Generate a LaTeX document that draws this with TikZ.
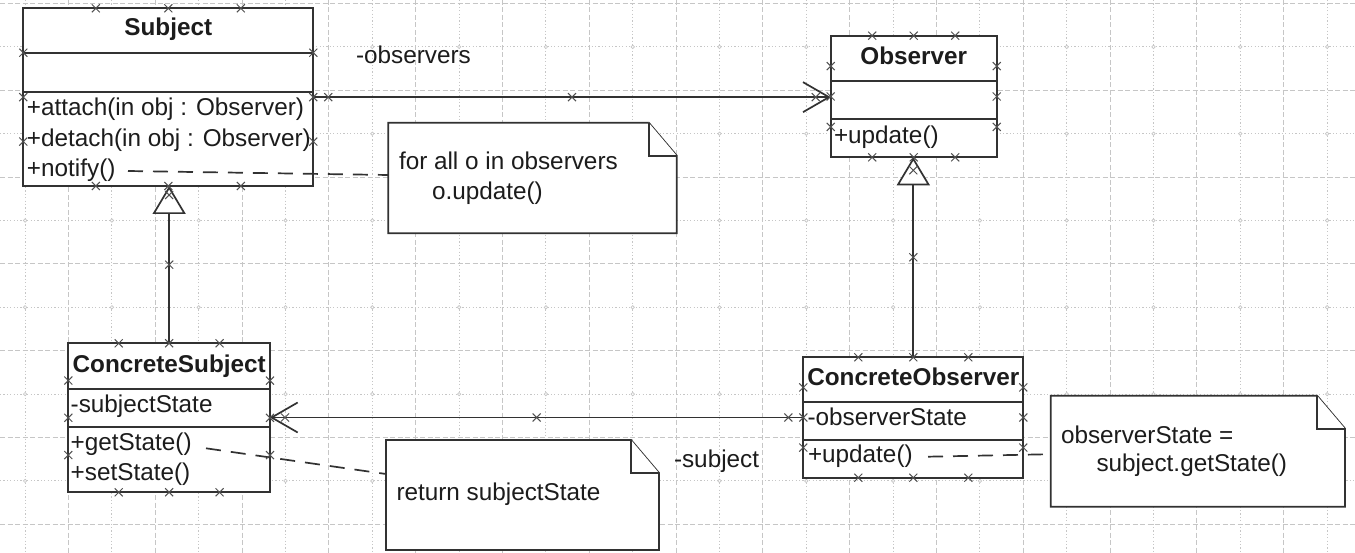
\documentclass[tikz,border=0pt]{standalone}
\usepackage{fontspec}
\setmainfont{Liberation Sans}
\usetikzlibrary{arrows.meta,calc}

\definecolor{gridgray}{RGB}{198,198,198}
\definecolor{inkgray}{RGB}{50,50,50}
\definecolor{textgray}{RGB}{28,28,28}
\definecolor{markgray}{RGB}{80,80,80}

% folded-corner outline of a note node
\newcommand\notefold[1]{%
  \draw[noteline] (#1.south west) -- (#1.north west) -- ([xshift=-28pt]#1.north east)
    -- ([yshift=-33pt]#1.north east) -- (#1.south east) -- cycle;
  \draw[noteline] ([xshift=-28pt]#1.north east) |- ([yshift=-33pt]#1.north east);}

\begin{document}
\begin{tikzpicture}[x=1pt,y=-1pt,
  every node/.style={inner sep=0pt, outer sep=0pt, text=textgray,
    font=\fontsize{24.3pt}{29pt}\selectfont},
  griddash/.style={draw=gridgray, line width=1pt, dash pattern=on 5pt off 2.5pt},
  griddot/.style={draw=gridgray, line width=1pt, dash pattern=on 1.2pt off 2.2pt},
  classbox/.style={draw=inkgray, line width=1.8pt, fill=white, rectangle},
  sepline/.style={draw=inkgray, line width=1.8pt},
  title/.style={anchor=base, font=\fontsize{24.3pt}{29pt}\selectfont\bfseries},
  member/.style={anchor=base west},
  notebase/.style={rectangle},
  noteline/.style={draw=inkgray, line width=1.8pt, fill=white, line join=miter},
  assoc/.style={draw=inkgray, line width=1.7pt, -{Straight Barb[length=26pt,width=30pt]}},
  gen/.style={draw=inkgray, line width=1.7pt, -{Triangle[length=28pt,width=33pt,fill=white]}},
  notelink/.style={draw=inkgray, line width=1.7pt, dash pattern=on 15pt off 10pt},
  markline/.style={draw=markgray, line width=1pt},
  hx/.pic={\draw[markline] (-4,-4) -- (4,4) (-4,4) -- (4,-4);}
]
\useasboundingbox[fill=white] (0,0) rectangle (1355,553);

% background grid: alternating dashed and dotted rules
\foreach \k in {0,...,30}{
  \pgfmathsetmacro\gx{25.1+43.4*\k}
  \ifodd\k \draw[griddash] (\gx,0) -- (\gx,553); \else \draw[griddot] (\gx,0) -- (\gx,553); \fi
}
\foreach \k in {0,...,12}{
  \pgfmathsetmacro\gy{3.5+43.4*\k}
  \ifodd\k \draw[griddot] (0,\gy) -- (1355,\gy); \else \draw[griddash] (0,\gy) -- (1355,\gy); \fi
}
\foreach \i in {0,2,...,30}{
  \foreach \j in {1,3,...,11}{
    \draw[gridgray, line width=0.7pt, fill=white] ({25.1+43.4*\i},{3.5+43.4*\j}) circle (1.7pt);
  }
}

% ---- classes ----
\node[classbox, minimum width=290pt, minimum height=177.7pt] (subj) at (168.3,97.15) {};
\draw[sepline] (subj.north west) ++(0,45) -- ++(290,0);
\draw[sepline] (subj.north west) ++(0,83.5) -- ++(290,0);
\node[title] (subjT) at (168.3,36) {Subject};
\node[member] (subjA) at (27,116) {+attach(in obj : Observer)};
\node[member] (subjD) at (27,146.8) {+detach(in obj : Observer)};
\node[member] (subjN) at (27,177) {+notify()};

\node[classbox, minimum width=166pt, minimum height=121.6pt] (obs) at (913.7,96.5) {};
\draw[sepline] (obs.north west) ++(0,45.3) -- ++(166,0);
\draw[sepline] (obs.north west) ++(0,83.6) -- ++(166,0);
\node[title] (obsT) at (913.7,65) {Observer};
\node[member] (obsU) at (834,143.5) {+update()};

\node[classbox, minimum width=201.7pt, minimum height=149pt] (csub) at (169.15,417.8) {};
\draw[sepline] (csub.north west) ++(0,45.7) -- ++(201.7,0);
\draw[sepline] (csub.north west) ++(0,84) -- ++(201.7,0);
\node[title] (csubT) at (169.2,372) {ConcreteSubject};
\node[member] (csubS) at (70.7,412) {-subjectState};
\node[member] (csubG) at (70.7,450.7) {+getState()};
\node[member] (csubW) at (70.7,480) {+setState()};

\node[classbox, minimum width=220pt, minimum height=120.4pt] (cobs) at (913.3,417.5) {};
\draw[sepline] (cobs.north west) ++(0,44.4) -- ++(220,0);
\draw[sepline] (cobs.north west) ++(0,82.7) -- ++(220,0);
\node[title] (cobsT) at (913.3,385.3) {ConcreteObserver};
\node[member] (cobsS) at (807.5,425.5) {-observerState};
\node[member] (cobsU) at (808,462.5) {+update()};

% ---- notes ----
\node[notebase, minimum width=288.4pt, minimum height=110.6pt] (n1) at (532.5,178) {};
\notefold{n1}
\node[member] (n1a) at (399,170) {for all o in observers};
\node[member] (n1b) at (432,199.5) {o.update()};

\node[notebase, minimum width=273pt, minimum height=110pt] (n2) at (522.5,495) {};
\notefold{n2}
\node[member] (n2a) at (396.5,500.7) {return subjectState};

\node[notebase, minimum width=294.3pt, minimum height=111pt] (n3) at (1197.85,451.2) {};
\notefold{n3}
\node[member] (n3a) at (1061,443.3) {observerState =};
\node[member] (n3b) at (1096.5,471.7) {subject.getState()};

% ---- connectors ----
\coordinate (a1s) at (subj.east);
\coordinate (a1e) at (subj.east -| obs.west);
\draw[assoc] (a1s) -- (a1e);
\node[member] (roleObs) at (356,64) {-observers};

\coordinate (a2s) at (cobs.west);
\coordinate (a2e) at (cobs.west -| csub.east);
\draw[assoc] (a2s) -- (a2e);
\node[member] (roleSub) at (674,467.3) {-subject};

\coordinate (g1s) at (csub.north);
\coordinate (g1e) at (csub.north |- subj.south);
\draw[gen] (g1s) -- (g1e);

\coordinate (g2s) at (cobs.north);
\coordinate (g2e) at (cobs.north |- obs.south);
\draw[gen] (g2s) -- (g2e);

\coordinate (l1) at (128,171);
\draw[notelink] (l1) -- ($(n1.north west)+(0,52.3)$);
\coordinate (l2) at (206,448.3);
\draw[notelink] (l2) -- ($(n2.north west)+(0,34)$);
\coordinate (l3) at (928,456.7);
\draw[notelink] (l3) -- ($(n3.north west)+(0,58.5)$);

% ---- connection handles ----
\foreach \b in {subj,obs,csub,cobs}{
  \foreach \t in {0.25,0.5,0.75}{
    \pic at ($(\b.north west)!\t!(\b.north east)$) {hx};
    \pic at ($(\b.south west)!\t!(\b.south east)$) {hx};
    \pic at ($(\b.north west)!\t!(\b.south west)$) {hx};
    \pic at ($(\b.north east)!\t!(\b.south east)$) {hx};
  }
}
\pic at ($(a1s)!15pt!(a1e)$) {hx};
\pic at ($(a1s)!0.5!(a1e)$) {hx};
\pic at ($(a1e)!15pt!(a1s)$) {hx};
\pic at ($(a2s)!15pt!(a2e)$) {hx};
\pic at ($(a2s)!0.5!(a2e)$) {hx};
\pic at ($(a2e)!15pt!(a2s)$) {hx};
\pic at ($(g1s)!0.5!(g1e)$) {hx};
\pic at ($(g1e)!9pt!(g1s)$) {hx};
\pic at ($(g2s)!0.5!(g2e)$) {hx};
\pic at ($(g2e)!13pt!(g2s)$) {hx};
\end{tikzpicture}
\end{document}
